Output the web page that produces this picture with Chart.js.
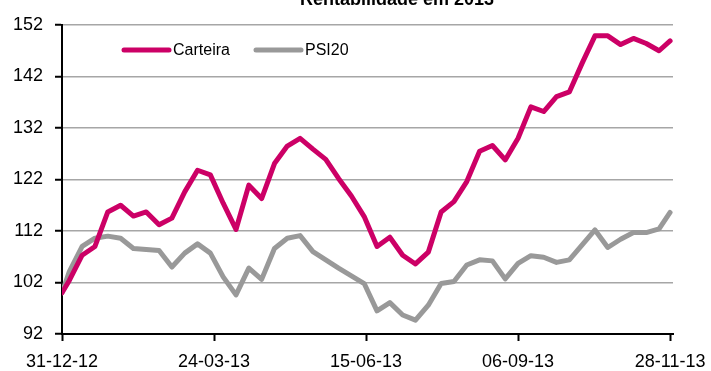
<!DOCTYPE html>
<html>
<head>
<meta charset="utf-8">
<script src="https://cdn.jsdelivr.net/npm/chart.js@4.4.1/dist/chart.umd.min.js"></script>
<style>
  html, body { margin: 0; padding: 0; background: #fff; }
  #wrap { width: 711px; height: 371px; }
</style>
</head>
<body>
<div id="wrap"><canvas id="chart" width="711" height="371"></canvas></div>
<script>
const title = 'Rentabilidade em 2013'

// weekly closes (first point is the start of the year, last the final day)
const dates = [
  '31-12-12', '04-01-13', '11-01-13', '18-01-13', '25-01-13', '01-02-13', '08-02-13', '15-02-13',
  '22-02-13', '01-03-13', '08-03-13', '15-03-13', '22-03-13', '29-03-13', '05-04-13', '12-04-13',
  '19-04-13', '26-04-13', '03-05-13', '10-05-13', '17-05-13', '24-05-13', '31-05-13', '07-06-13',
  '14-06-13', '21-06-13', '28-06-13', '05-07-13', '12-07-13', '19-07-13', '26-07-13', '02-08-13',
  '09-08-13', '16-08-13', '23-08-13', '30-08-13', '06-09-13', '13-09-13', '20-09-13', '27-09-13',
  '04-10-13', '11-10-13', '18-10-13', '25-10-13', '01-11-13', '08-11-13', '15-11-13', '22-11-13',
  '28-11-13'
]

const carteira = [
  100.0, 102.4, 107.3, 109.0, 115.7, 117.0, 114.9, 115.7,
  113.2, 114.5, 119.6, 123.8, 122.9, 117.4, 112.3, 120.9,
  118.3, 125.1, 128.5, 130.0, 127.9, 125.9, 122.2, 118.8,
  114.8, 109.0, 110.8, 107.3, 105.6, 107.9, 115.7, 117.7,
  121.6, 127.5, 128.6, 125.8, 130.0, 136.1, 135.2, 138.1,
  139.0, 144.6, 149.9, 149.9, 148.2, 149.4, 148.4, 147.0,
  148.9
]

const psi20 = [
  100.0, 104.1, 109.0, 110.6, 111.0, 110.6, 108.6, 108.4,
  108.2, 105.0, 107.7, 109.5, 107.7, 103.1, 99.6, 104.8,
  102.6, 108.6, 110.6, 111.1, 108.0, 106.4, 104.8, 103.3,
  101.8, 96.5, 98.1, 95.7, 94.7, 97.6, 101.8, 102.2,
  105.4, 106.4, 106.2, 102.7, 105.7, 107.2, 106.9, 105.9,
  106.4, 109.3, 112.2, 108.8, 110.4, 111.7, 111.7, 112.4,
  115.6
]

const tickLabels = ['31-12-12', '24-03-13', '15-06-13', '06-09-13', '28-11-13']
const yTicks = [92, 102, 112, 122, 132, 142, 152]

const seriesNames = ['Carteira', 'PSI20']
const seriesColors = ['#CC0066', '#999999']

const DAY = 86400000
function toUtc(s) {
  const [d, m, y] = s.split('-').map(Number)
  return Date.UTC(2000 + y, m - 1, d)
}
const origin = toUtc(dates[0])
const dayOf = s => Math.round((toUtc(s) - origin) / DAY)
function labelOf(day) {
  const dt = new Date(origin + day * DAY)
  const p = n => String(n).padStart(2, '0')
  return `${p(dt.getUTCDate())}-${p(dt.getUTCMonth() + 1)}-${p(dt.getUTCFullYear() % 100)}`
}

const font = "'Liberation Sans', Arial, sans-serif"

const overlay = {
  id: 'overlay',
  afterDraw(chart) {
    const ctx = chart.ctx
    ctx.save()
    // title, cut by the top edge as in the original
    ctx.fillStyle = '#000'
    ctx.font = `bold 18px ${font}`
    ctx.textAlign = 'center'
    ctx.textBaseline = 'alphabetic'
    ctx.fillText(title, 397, 5)

    // legend inside the plot
    const area = chart.chartArea
    const starts = [area.left + 62, area.left + 194]
    const y = area.top + 25
    ctx.font = `16px ${font}`
    ctx.textAlign = 'left'
    ctx.textBaseline = 'middle'
    chart.data.datasets.forEach((ds, i) => {
      const x = starts[i]
      ctx.strokeStyle = ds.borderColor
      ctx.lineWidth = 5
      ctx.lineCap = 'round'
      ctx.beginPath()
      ctx.moveTo(x, y)
      ctx.lineTo(x + 45, y)
      ctx.stroke()
      ctx.fillStyle = '#000'
      ctx.fillText(ds.label, x + 49, y + 1)
    })
    ctx.restore()
  }
}

new Chart(document.getElementById('chart'), {
  type: 'line',
  data: {
    datasets: [carteira, psi20].map((vals, i) => ({
      label: seriesNames[i],
      data: vals.map((v, j) => ({ x: dayOf(dates[j]), y: v })),
      borderColor: seriesColors[i],
      backgroundColor: seriesColors[i],
      borderWidth: 5,
      pointRadius: 0,
      tension: 0,
      borderJoinStyle: 'round',
      borderCapStyle: 'round',
      order: i
    }))
  },
  options: {
    responsive: false,
    animation: false,
    layout: { padding: { top: 25, right: 38, left: 0, bottom: 0 } },
    plugins: {
      legend: { display: false },
      title: { display: false },
      tooltip: { enabled: false }
    },
    scales: {
      x: {
        type: 'linear',
        min: 0,
        max: 333.6,
        afterBuildTicks: axis => { axis.ticks = tickLabels.map(t => ({ value: dayOf(t) })) },
        afterFit: axis => {
          axis.height = 37
          axis.paddingLeft = 0
          axis.paddingRight = 0
        },
        grid: { drawOnChartArea: false, drawTicks: true, tickLength: 7, tickColor: '#000', tickWidth: 2 },
        border: { color: '#000', width: 2 },
        ticks: {
          autoSkip: false,
          maxRotation: 0,
          padding: 10,
          color: '#000',
          font: { family: font, size: 18 },
          callback: v => labelOf(v)
        }
      },
      y: {
        min: 92,
        max: 152,
        afterBuildTicks: axis => { axis.ticks = yTicks.map(v => ({ value: v })) },
        afterFit: axis => { axis.width = 62 },
        grid: { color: '#A6A6A6', lineWidth: 1.5, tickLength: 7, tickColor: '#000', tickWidth: 2 },
        border: { color: '#000', width: 2 },
        ticks: {
          padding: 12,
          color: '#000',
          font: { family: font, size: 18 }
        }
      }
    }
  },
  plugins: [overlay]
})
</script>
</body>
</html>
